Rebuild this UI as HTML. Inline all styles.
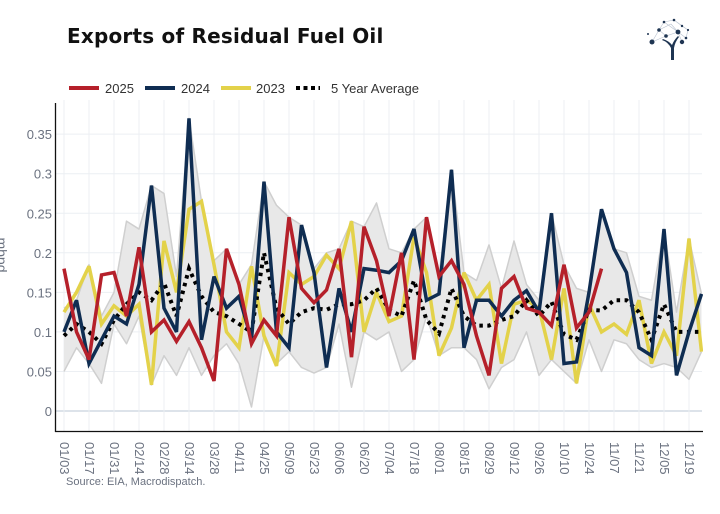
<!DOCTYPE html>
<html><head><meta charset="utf-8">
<style>
html,body{margin:0;padding:0;background:#fff;}
body{width:720px;height:514px;overflow:hidden;position:relative;font-family:"Liberation Sans",sans-serif;}
#title{position:absolute;left:67px;top:24px;font-family:"DejaVu Sans","Liberation Sans",sans-serif;font-weight:bold;font-size:20px;color:#111;letter-spacing:0.2px;}
</style></head>
<body>
<div id="title">Exports of Residual Fuel Oil</div>
<svg id="logo" width="60" height="50" style="position:absolute;left:640px;top:14px" viewBox="0 0 60 50">
<g stroke="#b8c2d0" stroke-width="0.6" fill="none">
<path d="M12 28 L19 16 L24 8 L34 6 L42 12 L48 16 L46 24 L38 18 L31 10 L19 16 L26 22 L38 18 L42 28 M12 28 L26 22 M24 8 L38 18 M34 6 L48 16"/>
</g>
<g fill="#1f3552">
<circle cx="12" cy="28" r="2.5"/><circle cx="19" cy="16" r="1.8"/><circle cx="24" cy="8" r="1.3"/><circle cx="34" cy="6" r="1.3"/>
<circle cx="42" cy="12" r="1.2"/><circle cx="48" cy="16" r="1.1"/><circle cx="46" cy="24" r="1.3"/><circle cx="38" cy="18" r="2.4"/>
<circle cx="26" cy="22" r="1.8"/><circle cx="42" cy="28" r="2.2"/><circle cx="8" cy="20" r="1"/>
<path d="M31 46 L31 34 Q28 28 22 26 L23 25 Q29 27 32 31 Q34 26 38 22 L39 23 Q35 28 34 34 L34 46 Z"/>
</g>
</svg>
<svg id="chart" width="720" height="514" style="position:absolute;left:0;top:0">
<defs><clipPath id="clip"><rect x="56" y="100" width="647" height="331"/></clipPath></defs>
<g id="grid"></g>
<g id="band" clip-path="url(#clip)"></g>
<g id="series" clip-path="url(#clip)"></g>
<g id="axes"></g>
<g id="legend"></g>
<text x="66" y="485" font-size="11" fill="#6b7280">Source: EIA, Macrodispatch.</text>
<text transform="translate(-3,255) rotate(90)" font-size="14" fill="#6b7280" text-anchor="middle">mbpd</text>
</svg>
<script>
const weekLabels = ["01/03","01/17","01/31","02/14","02/28","03/14","03/28","04/11","04/25","05/09","05/23","06/06","06/20","07/04","07/18","08/01","08/15","08/29","09/12","09/26","10/10","10/24","11/07","11/21","12/05","12/19"];
const yTicks = [0,0.05,0.1,0.15,0.2,0.25,0.3,0.35];
const s2025 = [0.18,0.10,0.065,0.172,0.175,0.12,0.207,0.10,0.115,0.088,0.113,0.08,0.038,0.205,0.16,0.085,0.115,0.095,0.245,0.155,0.137,0.153,0.205,0.068,0.233,0.19,0.12,0.2,0.065,0.245,0.17,0.19,0.16,0.095,0.045,0.155,0.17,0.13,0.125,0.108,0.185,0.105,0.125,0.18];
const s2024 = [0.10,0.14,0.06,0.09,0.12,0.11,0.16,0.285,0.13,0.10,0.37,0.09,0.17,0.13,0.145,0.09,0.29,0.10,0.08,0.235,0.175,0.055,0.155,0.10,0.18,0.178,0.175,0.19,0.23,0.14,0.148,0.305,0.08,0.14,0.14,0.12,0.14,0.152,0.125,0.25,0.06,0.062,0.15,0.255,0.205,0.175,0.08,0.07,0.23,0.045,0.10,0.148];
const s2023 = [0.125,0.15,0.183,0.11,0.133,0.12,0.135,0.033,0.215,0.15,0.255,0.265,0.185,0.10,0.08,0.183,0.095,0.057,0.175,0.16,0.17,0.197,0.18,0.24,0.10,0.15,0.113,0.12,0.22,0.175,0.07,0.105,0.175,0.14,0.16,0.06,0.135,0.14,0.13,0.065,0.155,0.035,0.135,0.10,0.11,0.097,0.14,0.06,0.10,0.07,0.218,0.075];
const avg5 = [0.095,0.11,0.10,0.085,0.115,0.135,0.15,0.14,0.162,0.12,0.18,0.145,0.125,0.12,0.11,0.10,0.20,0.13,0.11,0.125,0.13,0.128,0.135,0.135,0.14,0.155,0.128,0.12,0.165,0.115,0.098,0.155,0.12,0.108,0.108,0.115,0.12,0.14,0.12,0.138,0.097,0.09,0.128,0.127,0.14,0.14,0.125,0.09,0.135,0.10,0.10,0.10];
const bandMax = [0.13,0.14,0.185,0.12,0.15,0.24,0.23,0.285,0.275,0.17,0.37,0.265,0.19,0.205,0.16,0.185,0.29,0.26,0.245,0.235,0.18,0.2,0.205,0.24,0.233,0.263,0.205,0.2,0.23,0.245,0.17,0.305,0.175,0.165,0.21,0.155,0.215,0.16,0.14,0.25,0.185,0.155,0.15,0.255,0.205,0.2,0.145,0.14,0.23,0.125,0.218,0.148];
const bandMin = [0.05,0.08,0.06,0.035,0.11,0.085,0.12,0.033,0.07,0.045,0.08,0.045,0.07,0.085,0.06,0.005,0.095,0.06,0.075,0.055,0.048,0.055,0.11,0.03,0.1,0.09,0.1,0.05,0.065,0.12,0.07,0.08,0.08,0.065,0.028,0.055,0.065,0.1,0.045,0.065,0.05,0.035,0.09,0.05,0.09,0.085,0.065,0.055,0.06,0.055,0.04,0.075];

const NS="http://www.w3.org/2000/svg";
const X0=64, DX=12.5, Y0=411, YS=791;
function x(i){return X0+DX*i;}
function y(v){return Y0-v*YS;}
function mk(tag,attrs,parent){const e=document.createElementNS(NS,tag);for(const k in attrs)e.setAttribute(k,attrs[k]);parent.appendChild(e);return e;}
const grid=document.getElementById('grid'),axes=document.getElementById('axes'),band=document.getElementById('band'),series=document.getElementById('series'),legend=document.getElementById('legend');

yTicks.forEach(function(t){
  const l=mk('line',{x1:56,x2:702,y1:y(t),y2:y(t),stroke:t===0?'#dde3ea':'#eceff3','stroke-width':t===0?2:1},grid);
  
  
  const tx=mk('text',{x:52,y:y(t)+5,'text-anchor':'end','font-size':13,fill:'#6b7280'},axes);
  tx.textContent=String(t);
  
  
});
weekLabels.forEach(function(lab,k){
  const xx=x(k*2);
  const l=mk('line',{x1:xx,x2:xx,y1:100,y2:431,stroke:'#eceff3','stroke-width':1},grid);
  
  
  const tx=mk('text',{transform:'translate('+(xx-4)+',442) rotate(90)','font-size':13,fill:'#6b7280'},axes);
  tx.textContent=lab;
  
  
});
const ax1=mk('line',{x1:55.5,x2:55.5,y1:103,y2:432,stroke:'#111','stroke-width':1.3},axes);


const ax2=mk('line',{x1:55,x2:703,y1:431.5,y2:431.5,stroke:'#111','stroke-width':1.3},axes);



let d='';
bandMax.forEach(function(v,i){d+=(i?'L':'M')+x(i)+' '+y(v);});
for(let i=bandMin.length-1;i>=0;i--){d+='L'+x(i)+' '+y(bandMin[i]);}
d+='Z';
const bp=mk('path',{d:d,fill:'#e8e8e8',stroke:'none'},band);


function edge(arr,name){let dd='';arr.forEach(function(v,i){dd+=(i?'L':'M')+x(i)+' '+y(v);});const p=mk('path',{d:dd,fill:'none',stroke:'#cfcfcf','stroke-width':1.5,'stroke-linejoin':'round'},band);}
edge(bandMax,'range-max-line');edge(bandMin,'range-min-line');

function line(arr,color,w,dash,name){
  let dd='';arr.forEach(function(v,i){dd+=(i?'L':'M')+x(i)+' '+y(v);});
  const a={d:dd,fill:'none',stroke:color,'stroke-width':w,'stroke-linejoin':'miter','stroke-miterlimit':3};
  if(dash)a['stroke-dasharray']=dash;
  const p=mk('path',a,series);
  
  
}
line(s2023,'#e3d24a',3.5,null,'series-2023-line');
line(avg5,'#000',4,'3.5,4.5','series-5yr-average-line');
line(s2024,'#0f2d52',3.5,null,'series-2024-line');
line(s2025,'#b5202a',3.5,null,'series-2025-line');

const leg=[['2025','#b5202a',69,105,null],['2024','#0f2d52',145,181,null],['2023','#e3d24a',221,256,null],['5 Year Average','#000',296,331,'4,3.5']];
leg.forEach(function(e){
  const g=mk('g',{},legend);
  
  
  const a={x1:e[2],x2:e[2]+(e[4]?24:30),y1:88,y2:88,stroke:e[1],'stroke-width':4};
  if(e[4])a['stroke-dasharray']=e[4];
  mk('line',a,g);
  const t=mk('text',{x:e[3],y:93,'font-size':13,fill:'#333'},g);
  t.textContent=e[0];
});
</script>
</body></html>
